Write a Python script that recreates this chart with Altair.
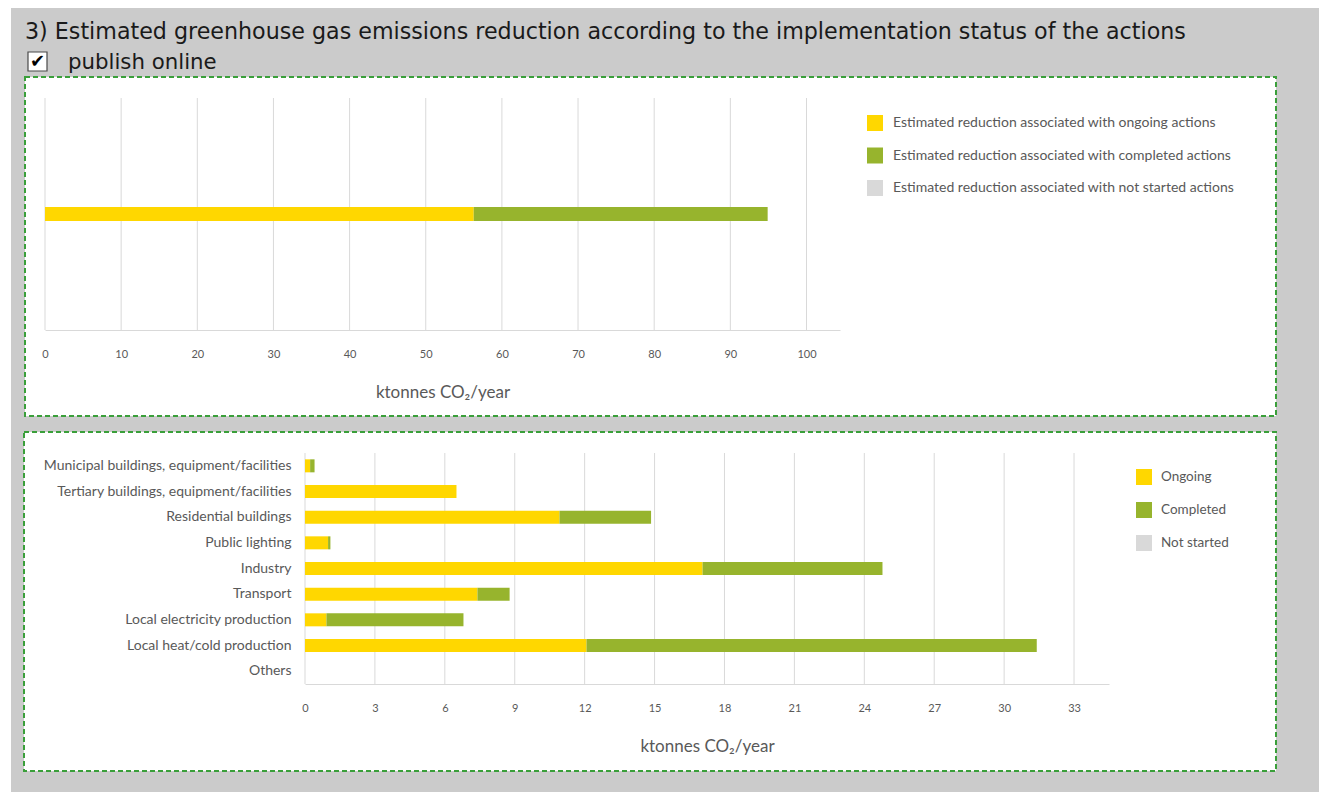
import altair as alt
import pandas as pd

# ---- data -----------------------------------------------------------------
top_status = [
    "Estimated reduction associated with ongoing actions",
    "Estimated reduction associated with completed actions",
    "Estimated reduction associated with not started actions",
]
top_values = [56.3, 38.6, 0.0]          # ktonnes CO2/year, all sectors

sectors = [
    "Municipal buildings, equipment/facilities",
    "Tertiary buildings, equipment/facilities",
    "Residential buildings",
    "Public lighting",
    "Industry",
    "Transport",
    "Local electricity production",
    "Local heat/cold production",
    "Others",
]
bottom_status = ["Ongoing", "Completed", "Not started"]
ongoing = [0.22, 6.5, 10.92, 0.99, 17.06, 7.4, 0.92, 12.08, 0.0]
completed = [0.19, 0.0, 3.93, 0.10, 7.72, 1.38, 5.88, 19.32, 0.0]
not_started = [0.0, 0.0, 0.0, 0.0, 0.0, 0.0, 0.0, 0.0, 0.0]

top_ticks = [0, 10, 20, 30, 40, 50, 60, 70, 80, 90, 100]
bottom_ticks = [0, 3, 6, 9, 12, 15, 18, 21, 24, 27, 30, 33]

status_colors = ["#FFD700", "#97B42D", "#D9D9D9"]

title_text = ("3) Estimated greenhouse gas emissions reduction according to "
              "the implementation status of the actions")
unit_title = "ktonnes CO\u2082/year"

# ---- style ----------------------------------------------------------------
PAGE_GREY = "#CBCBCB"
FRAME_GREEN = "#3A9F3A"
GRID = "#D9D9D9"
TEXT = "#595959"
FONT = "Lato"

top_df = pd.DataFrame({
    "row": ["all"] * 3,
    "status": top_status,
    "value": top_values,
    "ord": [0, 1, 2],
})

rows = []
for i, s in enumerate(sectors):
    for k, (st, vals) in enumerate(zip(bottom_status, [ongoing, completed, not_started])):
        rows.append({"sector": s, "status": st, "value": vals[i], "ord": k})
bottom_df = pd.DataFrame(rows)

one_row = alt.Data(values=[{"k": 0}])


def value_axis(ticks):
    return alt.Axis(
        values=ticks, title=unit_title, grid=False, ticks=False, tickSize=0,
        domainColor=GRID, domainWidth=1, labelFlush=False,
        labelFont=FONT, labelFontSize=11, labelColor=TEXT, labelPadding=18,
        titleFont=FONT, titleFontSize=17, titleFontWeight="normal",
        titleColor=TEXT, titlePadding=25, zindex=1,
    )


def legend(x, y, row_pad, offset, size):
    return alt.Legend(
        title=None, orient="none", legendX=x, legendY=y, padding=0,
        symbolType="square", symbolSize=256, symbolStrokeWidth=0,
        labelFont=FONT, labelFontSize=size, labelColor=TEXT, labelLimit=500,
        rowPadding=row_pad, labelOffset=offset, zindex=1,
    )


def backdrop(x0, x1, y0, y1):
    return alt.Chart(one_row).mark_rect(fill=PAGE_GREY).encode(
        x=alt.value(x0), x2=alt.value(x1), y=alt.value(y0), y2=alt.value(y1))


def frame(x0, x1, y0, y1):
    return alt.Chart(one_row).mark_rect(
        fill="white", stroke=FRAME_GREEN, strokeWidth=2, strokeDash=[5, 3]
    ).encode(x=alt.value(x0), x2=alt.value(x1), y=alt.value(y0), y2=alt.value(y1))


# ---- top panel: all sectors together --------------------------------------
W1, H1 = 795, 232
x_top_scale = alt.Scale(domain=[0, 104.4], nice=False)

top_grid = alt.Chart(pd.DataFrame({"value": top_ticks})).mark_rule(
    color=GRID, strokeWidth=1
).encode(
    x=alt.X("value:Q", scale=x_top_scale, axis=value_axis(top_ticks)),
    y=alt.value(0), y2=alt.value(H1),
)

top_bars = alt.Chart(top_df).mark_bar(size=14).encode(
    x=alt.X("value:Q", stack="zero", scale=x_top_scale, axis=value_axis(top_ticks)),
    y=alt.Y("row:N", axis=None, scale=alt.Scale(paddingInner=0, paddingOuter=0)),
    color=alt.Color("status:N",
                    scale=alt.Scale(domain=top_status, range=status_colors),
                    legend=legend(822, 17, 16.5, 10, 14)),
    order=alt.Order("ord:Q"),
)

heading = alt.Chart(one_row).mark_text(
    text=title_text, align="left", baseline="alphabetic",
    font="DejaVu Sans", fontSize=22.2, color="#1A1A1A",
).encode(x=alt.value(-20), y=alt.value(-59))

checkbox = alt.Chart(one_row).mark_rect(
    fill="white", stroke="#4A4A4A", strokeWidth=1.2
).encode(x=alt.value(-17), x2=alt.value(2), y=alt.value(-46), y2=alt.value(-27))

checkmark = alt.Chart(one_row).mark_text(
    text="\u2714", align="center", baseline="middle",
    font="DejaVu Sans", fontSize=18, color="#000000",
).encode(x=alt.value(-7.5), y=alt.value(-36))

publish = alt.Chart(one_row).mark_text(
    text="publish online", align="left", baseline="alphabetic",
    font="DejaVu Sans", fontSize=21.3, color="#1A1A1A",
).encode(x=alt.value(23), y=alt.value(-29))

top_panel = alt.layer(
    backdrop(-34, 1274, -90, 326),
    frame(-20, 1231, -21, 318),
    top_grid, top_bars, heading, checkbox, checkmark, publish,
).properties(width=W1, height=H1)

# ---- bottom panel: by sector ----------------------------------------------
# The plot area shares its left edge with the top panel; the value scale
# starts LABEL_W pixels further right, leaving room for the sector names.
LABEL_W = 260
W2, H2 = 1064, 231
x_bot_scale = alt.Scale(domain=[0, 34.5], nice=False, range=[LABEL_W, W2])

bottom_grid = alt.Chart(pd.DataFrame({"value": bottom_ticks})).mark_rule(
    color=GRID, strokeWidth=1
).encode(
    x=alt.X("value:Q", scale=x_bot_scale, axis=value_axis(bottom_ticks)),
    y=alt.value(0), y2=alt.value(H2),
)

bottom_bars = alt.Chart(bottom_df).mark_bar(size=13).encode(
    x=alt.X("value:Q", stack="zero", scale=x_bot_scale, axis=value_axis(bottom_ticks)),
    y=alt.Y("sector:N", sort=sectors,
            scale=alt.Scale(paddingInner=0, paddingOuter=0),
            axis=alt.Axis(title=None, domain=False, ticks=False, tickSize=0,
                          offset=-LABEL_W, labelPadding=14, labelFont=FONT,
                          labelFontSize=14, labelColor=TEXT, labelLimit=400,
                          zindex=1)),
    color=alt.Color("status:N",
                    scale=alt.Scale(domain=bottom_status, range=status_colors),
                    legend=legend(1091, 16, 17, 9, 13.5)),
    order=alt.Order("ord:Q"),
)

bottom_panel = alt.layer(
    backdrop(-34, 1274, -29, 339),
    frame(-21, 1231, -21, 318),
    bottom_grid, bottom_bars,
).properties(width=W2, height=H2)

chart = alt.vconcat(top_panel, bottom_panel, spacing=0).resolve_scale(
    x="independent", y="independent", color="independent"
).resolve_legend(color="independent").properties(
    padding={"left": 11, "top": 8, "right": 0, "bottom": 0},
    background="white",
).configure_view(strokeWidth=0)

chart.save("out.html", embed_options={"renderer": "svg", "actions": False})
